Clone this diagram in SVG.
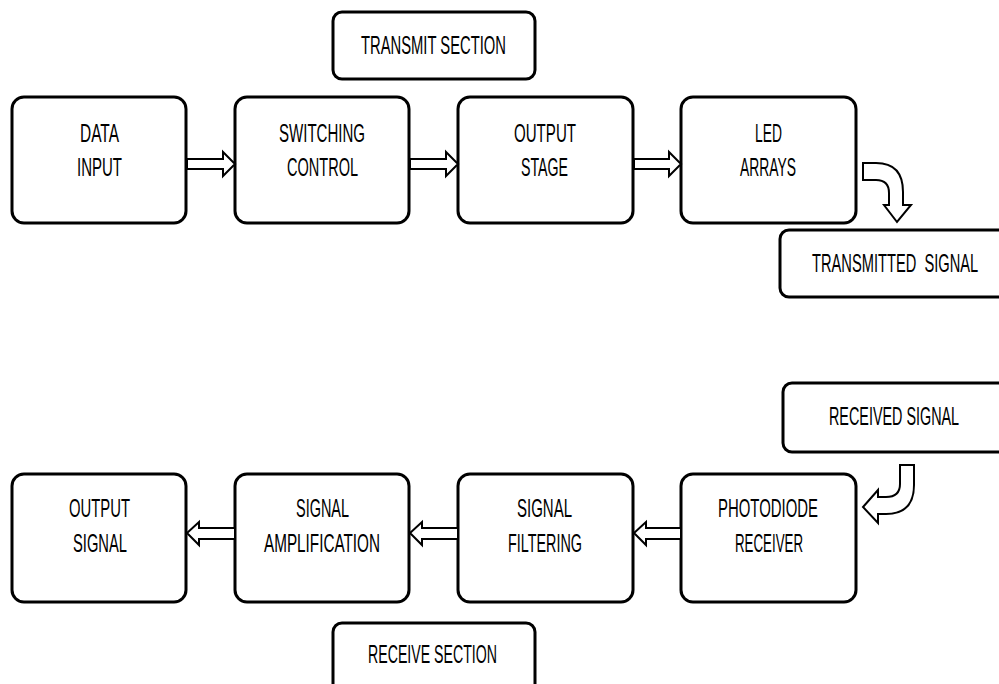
<svg xmlns="http://www.w3.org/2000/svg" width="999" height="684" viewBox="0 0 999 684">
<style>
.box{fill:#fff;stroke:#000;stroke-width:3}
.t{font-family:"Liberation Sans",Arial,sans-serif;font-size:25px;fill:#000}
.arr{fill:#fff;stroke:#000;stroke-width:2;stroke-linejoin:miter}
</style>
<rect width="999" height="684" fill="#fff"/>
<g id="transmit-section"><rect class="box" x="333" y="12" width="202" height="67" rx="9"/><text class="t" x="361" y="54" textLength="145" lengthAdjust="spacingAndGlyphs">TRANSMIT SECTION</text></g>
<g id="data-input"><rect class="box" x="12" y="97" width="174" height="126" rx="12"/><text class="t" x="80" y="142" textLength="39" lengthAdjust="spacingAndGlyphs">DATA</text><text class="t" x="77" y="176" textLength="45" lengthAdjust="spacingAndGlyphs">INPUT</text></g>
<g id="switching-control"><rect class="box" x="235" y="97" width="174" height="126" rx="12"/><text class="t" x="279" y="142" textLength="86" lengthAdjust="spacingAndGlyphs">SWITCHING</text><text class="t" x="287" y="176" textLength="71" lengthAdjust="spacingAndGlyphs">CONTROL</text></g>
<g id="output-stage"><rect class="box" x="458" y="97" width="175" height="126" rx="12"/><text class="t" x="514" y="142" textLength="62" lengthAdjust="spacingAndGlyphs">OUTPUT</text><text class="t" x="521" y="176" textLength="47" lengthAdjust="spacingAndGlyphs">STAGE</text></g>
<g id="led-arrays"><rect class="box" x="681" y="97" width="175" height="126" rx="12"/><text class="t" x="755" y="142" textLength="27" lengthAdjust="spacingAndGlyphs">LED</text><text class="t" x="740" y="176" textLength="56" lengthAdjust="spacingAndGlyphs">ARRAYS</text></g>
<g id="transmitted-signal"><rect class="box" x="780" y="230" width="240" height="67" rx="9"/><text class="t" transform="translate(812,272) scale(0.587,1)" x="0" y="0" xml:space="preserve">TRANSMITTED  SIGNAL</text></g>
<g id="received-signal"><rect class="box" x="783" y="383" width="240" height="69" rx="9"/><text class="t" transform="translate(829,425) scale(0.575,1)" x="0" y="0">RECEIVED SIGNAL</text></g>
<g id="output-signal"><rect class="box" x="12" y="474" width="174" height="128" rx="12"/><text class="t" x="69" y="517" textLength="61" lengthAdjust="spacingAndGlyphs">OUTPUT</text><text class="t" x="73" y="552" textLength="54" lengthAdjust="spacingAndGlyphs">SIGNAL</text></g>
<g id="signal-amplification"><rect class="box" x="235" y="474" width="174" height="128" rx="12"/><text class="t" x="296" y="517" textLength="53" lengthAdjust="spacingAndGlyphs">SIGNAL</text><text class="t" x="264" y="552" textLength="116" lengthAdjust="spacingAndGlyphs">AMPLIFICATION</text></g>
<g id="signal-filtering"><rect class="box" x="458" y="474" width="175" height="128" rx="12"/><text class="t" x="517" y="517" textLength="55" lengthAdjust="spacingAndGlyphs">SIGNAL</text><text class="t" x="508" y="552" textLength="74" lengthAdjust="spacingAndGlyphs">FILTERING</text></g>
<g id="photodiode-receiver"><rect class="box" x="681" y="474" width="175" height="128" rx="12"/><text class="t" x="718" y="517" textLength="100" lengthAdjust="spacingAndGlyphs">PHOTODIODE</text><text class="t" x="735" y="552" textLength="68" lengthAdjust="spacingAndGlyphs">RECEIVER</text></g>
<g id="receive-section"><rect class="box" x="333" y="623" width="202" height="90" rx="9"/><text class="t" x="368" y="663" textLength="129" lengthAdjust="spacingAndGlyphs">RECEIVE SECTION</text></g>
<g id="connectors">
<path class="arr" d="M187,159 L223,159 L223,152 L235,164 L223,176 L223,169 L187,169 Z"/>
<path class="arr" d="M410,159 L446,159 L446,152 L458,164 L446,176 L446,169 L410,169 Z"/>
<path class="arr" d="M634,159 L669,159 L669,152 L681,164 L669,176 L669,169 L634,169 Z"/>
<path class="arr" d="M863,163 L876,163 Q903,163 903,192 L903,205 L911,205 L897,222 L884,205 L889,205 L889,193 Q889,180 876,180 L863,180 Z"/>
<path class="arr" d="M900,465 L914,465 L914,485 Q914,514 886,514 L878,514 L878,523 L863,507 L878,490 L878,497 L886,497 Q900,497 900,484 Z"/>
<path class="arr" d="M681,528 L646,528 L646,522 L634,533 L646,545 L646,539 L681,539 Z"/>
<path class="arr" d="M458,528 L422,528 L422,522 L410,533 L422,545 L422,539 L458,539 Z"/>
<path class="arr" d="M235,528 L199,528 L199,522 L187,533 L199,545 L199,539 L235,539 Z"/>
</g>
</svg>
